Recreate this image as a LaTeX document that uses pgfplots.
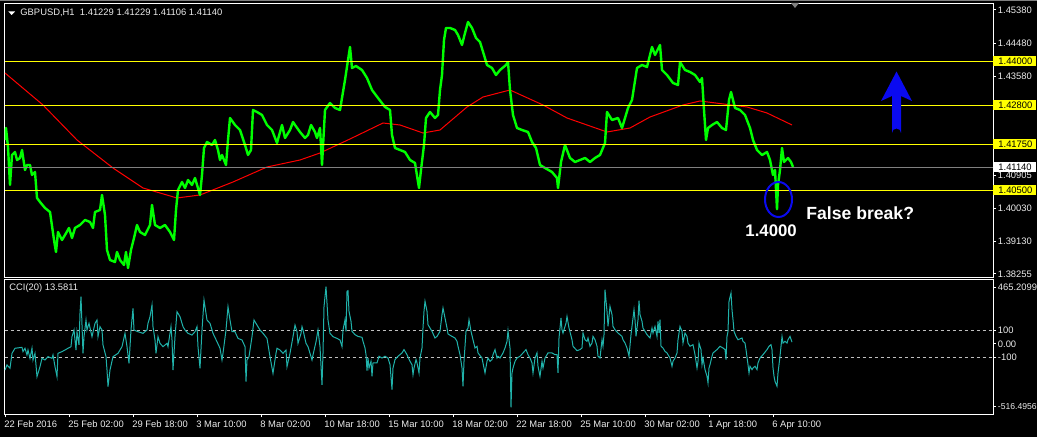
\documentclass[border=0pt]{standalone}
\usepackage{fontspec}
\setmainfont{Liberation Sans}
\usepackage{pgfplots}
\usepackage{pgfplotstable}
\pgfplotsset{compat=1.18}

\definecolor{mtgreen}{RGB}{0,255,0}
\definecolor{mtred}{RGB}{255,0,0}
\definecolor{mtcci}{RGB}{32,178,170}
\definecolor{mtyellow}{RGB}{255,255,0}
\definecolor{mtgrey}{RGB}{128,128,128}
\definecolor{mtblue}{RGB}{10,10,240}
\definecolor{mttext}{RGB}{235,235,235}

% GBPUSD H1 close; bar 0 = 22 Feb 2016 10:00
\pgfplotstableread{
bar close
0 1.41870
1 1.42194
3 1.41681
5 1.40655
7 1.41465
10 1.41546
12 1.41330
15 1.41384
17 1.41600
20 1.41060
22 1.41195
25 1.41195
27 1.40925
30 1.41006
32 1.40304
35 1.40196
40 1.40034
45 1.39926
49 1.39170
51 1.38846
53 1.39386
57 1.39170
60 1.39305
64 1.39494
67 1.39224
70 1.39494
75 1.39575
80 1.39710
85 1.39656
88 1.39494
90 1.39926
95 1.39980
97 1.40385
100 1.39845
102 1.38900
105 1.38630
110 1.38576
112 1.38846
115 1.38630
119 1.38495
121 1.38846
123 1.38414
126 1.38900
129 1.39224
132 1.39575
135 1.39386
140 1.39305
145 1.39575
147 1.40115
150 1.39575
155 1.39494
160 1.39575
165 1.39386
169 1.39170
171 1.39980
173 1.40520
177 1.40736
180 1.40574
183 1.40790
187 1.40655
190 1.40844
195 1.40385
197 1.40925
199 1.41654
202 1.41816
207 1.41735
210 1.41870
213 1.41600
215 1.41330
217 1.41465
221 1.41195
223 1.41870
225 1.42464
230 1.42275
235 1.42140
240 1.41735
243 1.41465
246 1.41600
248 1.42680
252 1.42626
257 1.42545
262 1.42275
267 1.42140
272 1.41789
277 1.42275
280 1.41924
285 1.42140
288 1.42356
290 1.42275
295 1.42086
300 1.41924
303 1.42005
306 1.42275
310 1.42086
312 1.41924
315 1.42194
317 1.41195
320 1.42680
325 1.42869
330 1.42734
335 1.42680
340 1.43490
343 1.44030
345 1.44381
347 1.43814
351 1.43868
357 1.43760
362 1.43544
367 1.43220
373 1.43004
380 1.42761
385 1.42680
387 1.42005
390 1.41654
395 1.41600
400 1.41546
405 1.41330
410 1.41249
413 1.40736
414 1.40574
416 1.41060
419 1.41735
421 1.42464
425 1.42626
430 1.42464
433 1.42545
435 1.43220
437 1.43625
439 1.44570
441 1.44894
445 1.44894
450 1.44840
453 1.44705
457 1.44435
460 1.44759
463 1.45056
467 1.44894
471 1.44624
475 1.44516
479 1.44165
482 1.43895
487 1.43814
491 1.43625
495 1.43760
501 1.43895
503 1.43976
505 1.43220
508 1.42545
512 1.42194
517 1.42140
523 1.42086
527 1.41816
531 1.41654
535 1.41195
540 1.41114
547 1.41006
552 1.40844
553 1.40574
556 1.41276
560 1.41735
565 1.41384
570 1.41276
575 1.41330
580 1.41384
585 1.41276
590 1.41384
595 1.41465
600 1.41789
602 1.42626
607 1.42410
613 1.42464
617 1.42194
623 1.42734
627 1.42950
632 1.43814
637 1.43895
642 1.43841
647 1.44381
650 1.44165
655 1.44435
657 1.43760
662 1.43625
668 1.43409
673 1.43355
675 1.43976
680 1.43760
685 1.43706
690 1.43625
695 1.43436
697 1.43544
699 1.42680
701 1.41870
703 1.42194
707 1.42275
712 1.42356
717 1.42194
721 1.42140
724 1.42950
726 1.43166
730 1.42734
735 1.42680
740 1.42545
745 1.42194
748 1.41870
752 1.41600
757 1.41465
762 1.41546
765 1.41330
768 1.40925
770 1.41060
772 1.40000
773 1.40655
775 1.41060
777 1.41654
779 1.41276
783 1.41384
786 1.41276
788 1.41140
}\closes

% moving average
\pgfplotstableread{
bar ma
0 1.43679
38 1.42815
72 1.41870
108 1.41114
138 1.40574
172 1.40304
195 1.40385
228 1.40736
262 1.41141
295 1.41330
315 1.41519
345 1.41897
378 1.42329
395 1.42275
418 1.42059
435 1.42140
462 1.42761
478 1.43031
505 1.43220
538 1.42815
562 1.42464
602 1.42086
625 1.42194
645 1.42491
678 1.42815
695 1.42923
742 1.42761
762 1.42599
787 1.42275
}\ma

% CCI(20)
\pgfplotstableread{
bar cci
0 -195
2 -157
5 -182
7 -70
10 -32
17 -25
18 -57
20 -32
22 -82
23 -45
25 -107
27 -32
28 -120
30 -70
32 -245
35 -170
37 -107
40 -120
43 -95
47 -107
48 -82
50 -170
52 -245
53 -70
57 -57
60 -45
63 -32
66 -20
67 55
69 105
71 -45
72 92
74 -7
75 230
76 355
78 -70
79 55
81 180
82 105
84 155
87 55
90 155
92 180
93 55
95 130
97 105
98 -7
101 -95
102 -195
103 -320
105 -195
108 -95
113 -70
117 -20
120 80
122 -20
124 -145
126 105
128 267
129 105
133 92
138 80
142 105
143 155
145 205
147 292
148 130
150 30
151 -70
153 55
155 5
158 -20
162 5
163 -20
166 130
167 30
168 -195
170 55
172 242
175 205
178 130
180 105
183 80
187 67
190 92
192 130
193 -20
195 -182
197 105
199 330
201 230
202 180
205 155
208 80
212 17
215 -32
217 -120
218 -70
221 105
223 280
225 180
227 92
230 92
233 42
237 30
240 -20
241 -282
242 -120
244 -95
247 55
249 180
252 142
255 105
258 80
262 42
265 -95
268 -220
269 -170
271 -70
272 -32
275 -45
278 -70
281 -45
282 -170
285 -70
288 55
290 142
292 92
293 5
296 80
297 130
298 105
301 5
303 -20
307 -120
308 -82
311 17
313 105
315 -20
317 -307
318 -70
319 280
321 430
323 180
325 80
328 55
332 42
335 30
337 -20
338 105
340 182
341 95
342 395
343 400
344 245
346 170
347 95
350 70
353 57
357 50
358 20
360 -30
361 -80
362 -200
363 -105
364 -180
366 -130
367 -242
368 -142
372 -142
374 -92
377 -105
380 -92
383 -105
385 -155
387 -342
388 -180
390 -117
393 -92
397 -67
399 -42
402 -80
405 -130
407 -155
408 -230
409 -180
411 -117
412 -142
414 -217
415 -105
417 -30
418 120
419 245
420 320
422 245
423 145
427 95
430 45
432 57
435 95
437 220
438 270
440 195
442 120
443 75
447 57
450 45
452 20
453 -17
455 -80
457 -180
458 -317
459 -130
461 95
463 120
464 182
466 95
468 32
470 -30
472 -17
473 -67
477 -105
479 -180
480 -217
482 -130
483 -105
485 -130
487 -117
488 -80
490 -42
492 -105
493 -92
495 -105
498 -67
500 -30
502 20
503 100
505 -30
506 -475
507 -217
508 -180
510 -130
512 -105
515 -92
518 -67
521 -42
523 -80
525 -105
527 -142
528 -217
530 -105
532 -67
533 -167
535 -242
537 -130
538 -180
540 -105
543 -67
547 -67
550 -80
552 -80
553 -217
554 45
556 195
557 107
558 82
561 157
562 207
564 120
567 32
568 -17
572 -50
575 -42
577 -30
578 82
580 32
582 20
583 45
585 -17
587 7
588 57
590 32
592 -17
593 -92
595 -105
597 32
598 -17
599 70
600 407
602 245
603 132
605 282
607 220
608 132
610 107
613 82
617 57
618 32
620 7
622 -30
624 -92
626 70
628 195
629 257
630 182
631 57
633 182
634 325
635 220
637 170
638 120
642 70
645 45
647 120
648 82
650 132
652 57
653 170
654 82
655 182
656 -17
658 -30
660 -55
662 -67
663 -80
665 -105
667 -167
668 -130
670 -105
672 -67
673 32
675 132
677 95
678 7
680 82
682 57
683 7
685 -17
688 -5
690 -80
692 -180
693 -130
694 7
696 -42
697 -155
698 -105
700 -192
702 -242
703 -292
704 -180
705 -155
707 -92
708 -67
712 -42
715 -17
718 -30
720 -42
721 -117
722 57
723 95
724 320
726 382
727 257
728 182
729 95
731 57
733 32
737 45
738 20
740 7
741 -42
743 -155
744 -217
745 -167
747 -192
748 -180
750 -167
752 -192
753 -142
755 -105
758 -80
762 -42
764 -17
766 -5
767 -42
768 -180
769 -242
770 -280
772 -317
773 -217
775 -92
777 57
778 7
780 20
782 7
783 32
785 57
787 14
}\cci

\pgfplotsset{mtpanel/.style={
  scale only axis, width=494.25pt, xmin=-0.5, xmax=988,
  axis line style={white, line width=0.5pt},
  axis background/.style={fill=black},
  tick style={white, line width=0.5pt},
  tick align=outside, major tick length=1.5pt,
  ticklabel style={font=\fontsize{4.7}{5}\selectfont, text=mttext},
  ytick pos=right, yticklabel pos=right,
  yticklabel style={anchor=west, inner sep=0pt, xshift=0.75pt},
}}

\begin{document}
\begin{tikzpicture}
\fill[black] (0,0) rectangle (518.5pt,-218.5pt);
\fill[mtgrey] (0,0) rectangle (518.5pt,-0.75pt);

\begin{axis}[mtpanel, at={(2.25pt,-2pt)}, anchor=north west, height=136.65pt,
  ymin=1.38163, ymax=1.45542, xtick=\empty,
  ytick={1.38255,1.3913,1.4003,1.40905,1.42785,1.4358,1.4448,1.4538},
  yticklabels={1.38255,1.39130,1.40030,1.40905,1.42785,1.43580,1.44480,1.45380}]
\addplot[mtred, line width=0.5pt] table[x=bar, y=ma] {\ma};
\addplot[mtgreen, line width=1.2pt, line join=round] table[x=bar, y=close] {\closes};
\addplot[mtgrey, line width=0.5pt] coordinates {(-0.5,1.4114) (988,1.4114)};
\addplot[mtyellow, line width=0.5pt] coordinates {(-0.5,1.44) (988,1.44)};
\addplot[mtyellow, line width=0.5pt] coordinates {(-0.5,1.428) (988,1.428)};
\addplot[mtyellow, line width=0.5pt] coordinates {(-0.5,1.4175) (988,1.4175)};
\addplot[mtyellow, line width=0.5pt] coordinates {(-0.5,1.405) (988,1.405)};
\end{axis}

\begin{axis}[mtpanel, at={(2.25pt,-139.75pt)}, anchor=north west, height=67.25pt,
  ymin=-525, ymax=483.75,
  xtick={0,64,...,768}, xtick pos=bottom,
  xticklabels={22 Feb 2016,25 Feb 02:00,29 Feb 18:00,3 Mar 10:00,8 Mar 02:00,10 Mar 18:00,15 Mar 10:00,18 Mar 02:00,22 Mar 18:00,25 Mar 10:00,30 Mar 02:00,1 Apr 18:00,6 Apr 10:00},
  xticklabel style={anchor=north west, inner sep=0pt, xshift=-0.5pt, yshift=-1.75pt},
  ytick={-472,-100,0,100,427},
  yticklabels={{\fontsize{4.3}{5}\selectfont-516.4956},-100,0.00,100,465.2099}]
\addplot[white!75!black, line width=0.5pt, dash pattern=on 1.5pt off 1.5pt] coordinates {(-0.5,100) (988,100)};
\addplot[white!75!black, line width=0.5pt, dash pattern=on 1.5pt off 1.5pt] coordinates {(-0.5,-100) (988,-100)};
\addplot[mtcci, line width=0.5pt] table[x=bar, y=cci] {\cci};
\end{axis}

\begin{scope}[x=0.5pt, y=-0.5pt, font=\fontsize{4.7}{5}\selectfont]
% price line labels on the scale
\foreach \yy/\tx in {61/1.44000, 105/1.42800, 144/1.41750, 190/1.40500}
  \node[anchor=west, fill=mtyellow, text=black, inner xsep=2.5pt, inner ysep=0.9pt, text width=16.5pt] at (993,\yy) {\tx};
\node[anchor=west, fill=white, text=black, inner xsep=2.5pt, inner ysep=0.9pt, text width=16.5pt] at (993,167) {1.41140};
% headers
\fill[white] (8.3,11.5) -- (15,11.5) -- (11.7,15) -- cycle;
\node[anchor=west, inner sep=0pt, text=mttext] at (20,13) {GBPUSD,H1\ \ 1.41229 1.41229 1.41106 1.41140};
\node[anchor=west, inner sep=0pt, text=mttext] at (9,288) {CCI(20) 13.5811};
\fill[mtgrey] (791,3) -- (799,3) -- (795,8) -- cycle;
% annotations
\draw[mtblue, line width=1pt] (778.5,199.5) ellipse [x radius=6.75pt, y radius=8.75pt];
\node[anchor=base west, inner sep=0pt, text=white, font=\fontsize{8.8}{9}\selectfont\bfseries] at (806,219.3) {False break?};
\node[anchor=base west, inner sep=0pt, text=white, font=\fontsize{8.4}{9}\selectfont\bfseries] at (745,236.7) {1.4000};
\fill[mtblue] (896.5,71.5) -- (912,101) -- (901,96) -- (901,133) arc[start angle=0, end angle=-180, radius=4.5] -- (892,96) -- (881,101) -- cycle;
\end{scope}

\pgfresetboundingbox
\path[use as bounding box] (0,0) rectangle (518.5pt,-218.5pt);
\end{tikzpicture}
\end{document}
